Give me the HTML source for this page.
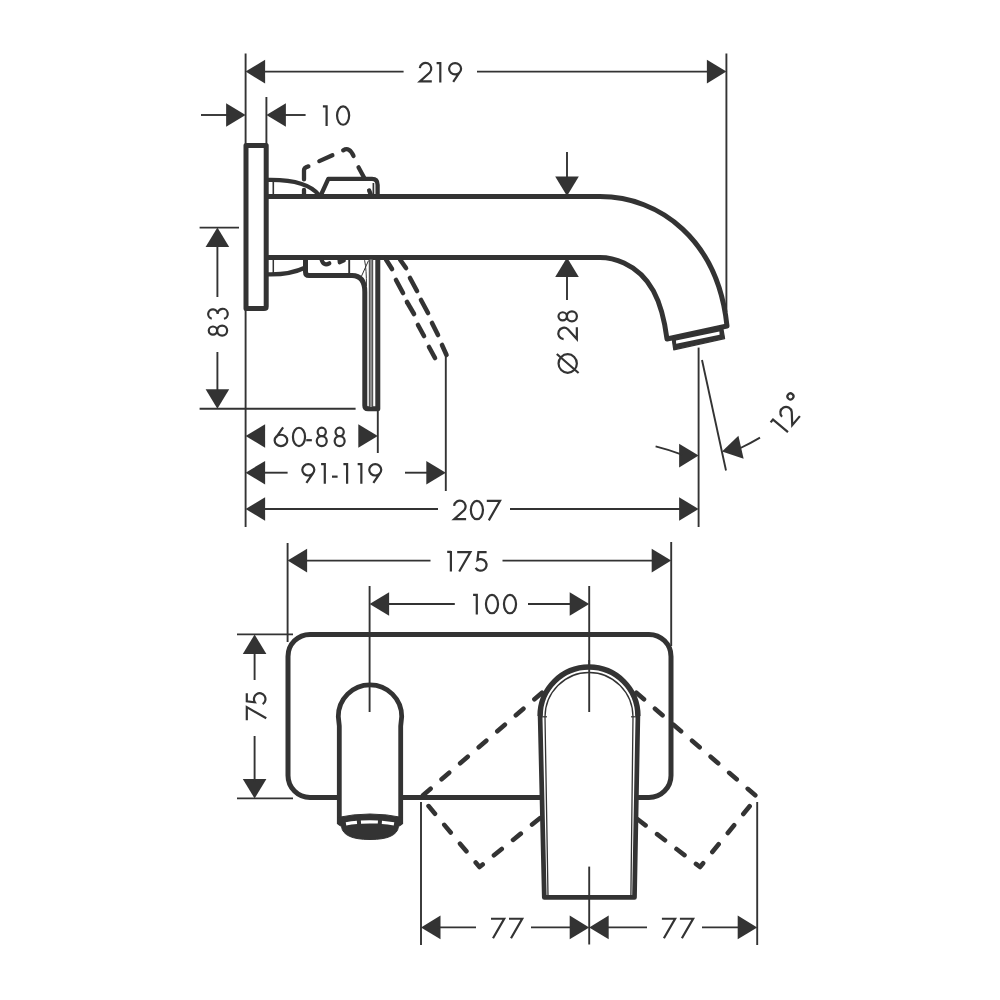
<!DOCTYPE html>
<html><head><meta charset="utf-8"><style>
html,body{margin:0;padding:0;background:#fff;}
svg{display:block;}
text{font-family:"Liberation Sans",sans-serif;fill:#333;}
</style></head><body>
<svg width="1000" height="1000" viewBox="0 0 1000 1000">
<rect width="1000" height="1000" fill="#fff"/>
<line x1="245.60" y1="53.60" x2="245.60" y2="527.00" stroke="#333" stroke-width="1.9" stroke-linecap="butt"/>
<line x1="266.40" y1="97.00" x2="266.40" y2="145.00" stroke="#333" stroke-width="1.9" stroke-linecap="butt"/>
<line x1="726.40" y1="53.60" x2="726.40" y2="312.00" stroke="#333" stroke-width="1.9" stroke-linecap="butt"/>
<line x1="698.60" y1="347.60" x2="698.60" y2="527.00" stroke="#333" stroke-width="1.9" stroke-linecap="butt"/>
<line x1="377.80" y1="409.00" x2="377.80" y2="453.00" stroke="#333" stroke-width="1.9" stroke-linecap="butt"/>
<line x1="445.80" y1="356.00" x2="445.80" y2="491.00" stroke="#333" stroke-width="1.9" stroke-linecap="butt"/>
<line x1="199.60" y1="227.60" x2="239.00" y2="227.60" stroke="#333" stroke-width="1.9" stroke-linecap="butt"/>
<line x1="199.60" y1="408.80" x2="355.60" y2="408.80" stroke="#333" stroke-width="1.9" stroke-linecap="butt"/>
<line x1="702.00" y1="360.00" x2="726.00" y2="470.50" stroke="#333" stroke-width="1.9" stroke-linecap="butt"/>
<polygon points="245.60,71.60 265.10,59.80 265.10,83.40" fill="#333"/>
<polygon points="726.40,71.60 706.90,83.40 706.90,59.80" fill="#333"/>
<line x1="262.00" y1="71.60" x2="403.60" y2="71.60" stroke="#333" stroke-width="1.9" stroke-linecap="butt"/>
<line x1="477.00" y1="71.60" x2="710.00" y2="71.60" stroke="#333" stroke-width="1.9" stroke-linecap="butt"/>
<g transform="translate(418.5,82.6)" fill="none" stroke="#333" stroke-width="2.2"><path transform="translate(0,0)" d="M1.3,-14.4 A5.75,5.75 0 1 1 11.3,-10.1 L1.4,-1.15 L13.3,-1.15"/><path transform="translate(18.1,0)" d="M0,-19.55 L3.7,-19.55 M3.7,-20.6 L3.7,0"/><path transform="translate(29.5,0)" d="M5.2,-0.8 L11.9,-10.6 M7.1,-19.45 A6.0,5.65 0 1 1 7.1,-8.15 A6.0,5.65 0 1 1 7.1,-19.45 Z"/></g>
<polygon points="245.60,115.00 226.10,126.80 226.10,103.20" fill="#333"/>
<line x1="201.00" y1="115.00" x2="230.00" y2="115.00" stroke="#333" stroke-width="1.9" stroke-linecap="butt"/>
<polygon points="266.40,115.00 285.90,103.20 285.90,126.80" fill="#333"/>
<line x1="282.00" y1="115.00" x2="305.60" y2="115.00" stroke="#333" stroke-width="1.9" stroke-linecap="butt"/>
<g transform="translate(322.9,125.9)" fill="none" stroke="#333" stroke-width="2.2"><path transform="translate(0,0)" d="M0,-19.55 L3.7,-19.55 M3.7,-20.6 L3.7,0"/><path transform="translate(13.0,0)" d="M7.2,-19.45 A6.05,9.15 0 1 1 7.2,-1.15 A6.05,9.15 0 1 1 7.2,-19.45 Z"/></g>
<polygon points="217.40,227.60 229.20,247.10 205.60,247.10" fill="#333"/>
<line x1="217.40" y1="244.00" x2="217.40" y2="297.00" stroke="#333" stroke-width="1.9" stroke-linecap="butt"/>
<polygon points="217.40,408.80 205.60,389.30 229.20,389.30" fill="#333"/>
<line x1="217.40" y1="352.00" x2="217.40" y2="392.00" stroke="#333" stroke-width="1.9" stroke-linecap="butt"/>
<g transform="translate(228.25,336.75) rotate(-90)" fill="none" stroke="#333" stroke-width="2.2"><path transform="translate(0,0)" d="M6.15,-19.5 A4.1,4.2 0 1 1 6.15,-11.1 A4.1,4.2 0 1 1 6.15,-19.5 Z M6.15,-11.1 A5.0,5.0 0 1 1 6.15,-1.1 A5.0,5.0 0 1 1 6.15,-11.1 Z"/><path transform="translate(16.75,0)" d="M1.3,-16.5 A4.75,4.75 0 1 1 6.1,-10.6 A5.05,5.05 0 1 1 1.3,-4.3"/></g>
<polygon points="567.00,196.00 555.20,176.50 578.80,176.50" fill="#333"/>
<line x1="567.00" y1="152.00" x2="567.00" y2="180.00" stroke="#333" stroke-width="1.9" stroke-linecap="butt"/>
<polygon points="567.00,257.50 578.80,277.00 555.20,277.00" fill="#333"/>
<line x1="567.00" y1="274.00" x2="567.00" y2="300.00" stroke="#333" stroke-width="1.9" stroke-linecap="butt"/>
<g transform="translate(578,374) rotate(-90)" fill="none" stroke="#333" stroke-width="2.2"><path transform="translate(0,0)" d="M10.5,-19.45 A9.3,9.15 0 1 1 10.5,-1.15 A9.3,9.15 0 1 1 10.5,-19.45 Z M1.0,0.6 L20.0,-21.2"/><path transform="translate(33.5,0)" d="M1.3,-14.4 A5.75,5.75 0 1 1 11.3,-10.1 L1.4,-1.15 L13.3,-1.15"/><path transform="translate(51.5,0)" d="M6.15,-19.5 A4.1,4.2 0 1 1 6.15,-11.1 A4.1,4.2 0 1 1 6.15,-19.5 Z M6.15,-11.1 A5.0,5.0 0 1 1 6.15,-1.1 A5.0,5.0 0 1 1 6.15,-11.1 Z"/></g>
<polygon points="245.60,436.00 265.10,424.20 265.10,447.80" fill="#333"/>
<polygon points="377.80,436.00 358.30,447.80 358.30,424.20" fill="#333"/>
<g transform="translate(273.5,447.2)" fill="none" stroke="#333" stroke-width="2.2"><path transform="translate(0,0)" d="M9.6,-19.9 L2.6,-9.8 M7.45,-12.45 A6.3,5.65 0 1 1 7.45,-1.15 A6.3,5.65 0 1 1 7.45,-12.45 Z"/><path transform="translate(18.3,0)" d="M7.2,-19.45 A6.05,9.15 0 1 1 7.2,-1.15 A6.05,9.15 0 1 1 7.2,-19.45 Z"/><path transform="translate(32.75,0)" d="M0,-7.0 L5.6,-7.0"/><path transform="translate(42.1,0)" d="M6.15,-19.5 A4.1,4.2 0 1 1 6.15,-11.1 A4.1,4.2 0 1 1 6.15,-19.5 Z M6.15,-11.1 A5.0,5.0 0 1 1 6.15,-1.1 A5.0,5.0 0 1 1 6.15,-11.1 Z"/><path transform="translate(60.0,0)" d="M6.15,-19.5 A4.1,4.2 0 1 1 6.15,-11.1 A4.1,4.2 0 1 1 6.15,-19.5 Z M6.15,-11.1 A5.0,5.0 0 1 1 6.15,-1.1 A5.0,5.0 0 1 1 6.15,-11.1 Z"/></g>
<polygon points="245.60,472.70 265.10,460.90 265.10,484.50" fill="#333"/>
<line x1="262.00" y1="472.70" x2="287.60" y2="472.70" stroke="#333" stroke-width="1.9" stroke-linecap="butt"/>
<polygon points="445.80,472.70 426.30,484.50 426.30,460.90" fill="#333"/>
<line x1="405.00" y1="472.70" x2="430.00" y2="472.70" stroke="#333" stroke-width="1.9" stroke-linecap="butt"/>
<g transform="translate(301.2,483.65)" fill="none" stroke="#333" stroke-width="2.2"><path transform="translate(0,0)" d="M5.2,-0.8 L11.9,-10.6 M7.1,-19.45 A6.0,5.65 0 1 1 7.1,-8.15 A6.0,5.65 0 1 1 7.1,-19.45 Z"/><path transform="translate(19.9,0)" d="M0,-19.55 L3.7,-19.55 M3.7,-20.6 L3.7,0"/><path transform="translate(30.8,0)" d="M0,-7.0 L5.6,-7.0"/><path transform="translate(42.2,0)" d="M0,-19.55 L3.7,-19.55 M3.7,-20.6 L3.7,0"/><path transform="translate(56.45,0)" d="M0,-19.55 L3.7,-19.55 M3.7,-20.6 L3.7,0"/><path transform="translate(66.95,0)" d="M5.2,-0.8 L11.9,-10.6 M7.1,-19.45 A6.0,5.65 0 1 1 7.1,-8.15 A6.0,5.65 0 1 1 7.1,-19.45 Z"/></g>
<polygon points="245.60,509.00 265.10,497.20 265.10,520.80" fill="#333"/>
<line x1="262.00" y1="509.00" x2="438.00" y2="509.00" stroke="#333" stroke-width="1.9" stroke-linecap="butt"/>
<polygon points="698.60,509.00 679.10,520.80 679.10,497.20" fill="#333"/>
<line x1="510.00" y1="509.00" x2="682.00" y2="509.00" stroke="#333" stroke-width="1.9" stroke-linecap="butt"/>
<g transform="translate(452.8,520.35)" fill="none" stroke="#333" stroke-width="2.2"><path transform="translate(0,0)" d="M1.3,-14.4 A5.75,5.75 0 1 1 11.3,-10.1 L1.4,-1.15 L13.3,-1.15"/><path transform="translate(16.9,0)" d="M7.2,-19.45 A6.05,9.15 0 1 1 7.2,-1.15 A6.05,9.15 0 1 1 7.2,-19.45 Z"/><path transform="translate(33.8,0)" d="M0.2,-19.45 L13.4,-19.45 L2.2,0"/></g>
<polygon points="698.60,455.60 679.10,467.40 679.10,443.80" fill="#333"/>
<path d="M655.6,446.4 Q668,449.5 682,454.6" stroke="#333" stroke-width="1.9" fill="none" stroke-linejoin="round" />
<polygon points="722.00,451.60 738.41,435.78 743.63,458.79" fill="#333"/>
<path d="M740.5,448 Q750,443.5 760,437.6" stroke="#333" stroke-width="1.9" fill="none" stroke-linejoin="round" />
<g transform="translate(785.6,434.9) rotate(-50)" fill="none" stroke="#333" stroke-width="2.2"><path transform="translate(0,0)" d="M0,-19.55 L3.7,-19.55 M3.7,-20.6 L3.7,0"/><path transform="translate(10.3,0)" d="M1.3,-14.4 A5.75,5.75 0 1 1 11.3,-10.1 L1.4,-1.15 L13.3,-1.15"/><path transform="translate(29.3,0)" d="M3.3,-24.0 A3.0,3.0 0 1 1 3.3,-18.0 A3.0,3.0 0 1 1 3.3,-24.0 Z"/></g>
<path d="M246,145.5 L266.2,145.5 L266.2,306.5 Q266.2,308.6 264,308.6 L246,308.6 Z" stroke="#333" stroke-width="5.0" fill="#fff" stroke-linejoin="round" />
<path d="M266.2,196.6 L600,196.6 C660,196.6 718,240 727,326 L667,339 C662,300 650,275 624,263 C615,259 607,257.6 600,257.6 L266.2,257.6" stroke="#333" stroke-width="5.0" fill="none" stroke-linejoin="round" />
<polygon points="672,337.6 722.6,327.2 724.6,338.6 673.8,349.8" fill="#333" stroke="#333" stroke-width="1.2" stroke-linejoin="round"/>
<polygon points="676,340.6 719.4,331.6 719.6,334.8 676.2,343.8" fill="#fff"/>
<path d="M320.5,196 L328.3,178.8 L372,178.8 Q377.6,178.8 377.6,185 L377.6,196" stroke="#333" stroke-width="4.3" fill="none" stroke-linejoin="round" />
<line x1="273.30" y1="181.00" x2="273.30" y2="196.00" stroke="#333" stroke-width="1.6" stroke-linecap="butt"/>
<line x1="373.40" y1="183.00" x2="373.40" y2="196.00" stroke="#333" stroke-width="1.7" stroke-linecap="butt"/>
<path d="M268,179.8 C292,179.4 311,184.5 319.5,195.5" stroke="#333" stroke-width="4.2" fill="none" stroke-linejoin="round" />
<line x1="304.00" y1="190.00" x2="304.00" y2="195.50" stroke="#333" stroke-width="4.3" stroke-linecap="round"/>
<path d="M304,179.4 L304,170.2 Q304,167.6 308.4,166.4" stroke="#333" stroke-width="4.3" fill="none" stroke-linejoin="round" stroke-linecap="round"/>
<line x1="319.30" y1="161.10" x2="332.40" y2="155.30" stroke="#333" stroke-width="4.3" stroke-linecap="round"/>
<path d="M343.2,150.3 Q349.5,146.5 353.5,155.9" stroke="#333" stroke-width="4.3" fill="none" stroke-linejoin="round" stroke-linecap="round"/>
<line x1="358.50" y1="167.30" x2="364.30" y2="178.10" stroke="#333" stroke-width="4.3" stroke-linecap="round"/>
<line x1="369.10" y1="190.40" x2="370.80" y2="194.60" stroke="#333" stroke-width="4.3" stroke-linecap="round"/>
<line x1="273.30" y1="258.00" x2="273.30" y2="274.00" stroke="#333" stroke-width="1.5" stroke-linecap="butt"/>
<path d="M268,274.4 C285,274.8 297,271.5 305.5,267.5" stroke="#333" stroke-width="4.2" fill="none" stroke-linejoin="round" />
<path d="M305.5,257.6 L305.5,272 Q305.5,275.5 309,275.5 L352,275.5 Q364.8,275.5 364.8,292 L364.8,405.5 Q364.8,408.8 368,408.8 L377.8,408.8 L377.8,257.6" stroke="#333" stroke-width="5.0" fill="none" stroke-linejoin="round" />
<line x1="349.20" y1="258.00" x2="349.20" y2="275.50" stroke="#333" stroke-width="1.9" stroke-linecap="butt"/>
<line x1="371.00" y1="259.50" x2="371.00" y2="407.00" stroke="#8a8a8a" stroke-width="3.4" stroke-linecap="butt"/>
<line x1="369.30" y1="259.50" x2="369.30" y2="407.00" stroke="#333" stroke-width="0.9" stroke-linecap="butt"/>
<line x1="372.70" y1="259.50" x2="372.70" y2="407.00" stroke="#333" stroke-width="0.9" stroke-linecap="butt"/>
<line x1="368.50" y1="260.60" x2="361.30" y2="276.60" stroke="#333" stroke-width="1.0" stroke-linecap="butt"/>
<path d="M364.6,260.2 Q366.6,270 366.4,286" stroke="#333" stroke-width="1.0" fill="none" stroke-linejoin="round" />
<path d="M321.5,259.5 Q323.5,266.5 329.3,263.3" stroke="#333" stroke-width="4.2" fill="none" stroke-linejoin="round" stroke-linecap="round"/>
<path d="M339.3,259.5 L339.6,262.5 L344,260.6" stroke="#333" stroke-width="3.8" fill="none" stroke-linejoin="round" stroke-linecap="round"/>
<line x1="386.00" y1="259.50" x2="392.00" y2="269.00" stroke="#333" stroke-width="4.6" stroke-linecap="round"/>
<line x1="396.00" y1="280.00" x2="403.00" y2="293.00" stroke="#333" stroke-width="4.6" stroke-linecap="round"/>
<line x1="407.00" y1="302.00" x2="414.00" y2="314.00" stroke="#333" stroke-width="4.6" stroke-linecap="round"/>
<line x1="418.00" y1="325.00" x2="424.00" y2="336.00" stroke="#333" stroke-width="4.6" stroke-linecap="round"/>
<line x1="429.00" y1="347.00" x2="435.00" y2="358.00" stroke="#333" stroke-width="4.6" stroke-linecap="round"/>
<line x1="400.00" y1="259.50" x2="406.00" y2="268.00" stroke="#333" stroke-width="4.6" stroke-linecap="round"/>
<line x1="410.00" y1="278.00" x2="417.00" y2="291.00" stroke="#333" stroke-width="4.6" stroke-linecap="round"/>
<line x1="421.00" y1="300.00" x2="428.00" y2="313.00" stroke="#333" stroke-width="4.6" stroke-linecap="round"/>
<line x1="432.00" y1="323.00" x2="438.00" y2="335.00" stroke="#333" stroke-width="4.6" stroke-linecap="round"/>
<line x1="442.00" y1="345.00" x2="446.50" y2="355.00" stroke="#333" stroke-width="4.6" stroke-linecap="round"/>
<line x1="287.60" y1="543.00" x2="287.60" y2="642.00" stroke="#333" stroke-width="1.9" stroke-linecap="butt"/>
<line x1="671.20" y1="542.00" x2="671.20" y2="646.00" stroke="#333" stroke-width="1.9" stroke-linecap="butt"/>
<polygon points="287.60,560.60 307.10,548.80 307.10,572.40" fill="#333"/>
<line x1="304.00" y1="560.60" x2="430.50" y2="560.60" stroke="#333" stroke-width="1.9" stroke-linecap="butt"/>
<polygon points="671.20,560.60 651.70,572.40 651.70,548.80" fill="#333"/>
<line x1="502.50" y1="560.60" x2="655.00" y2="560.60" stroke="#333" stroke-width="1.9" stroke-linecap="butt"/>
<g transform="translate(447.2,571.5)" fill="none" stroke="#333" stroke-width="2.2"><path transform="translate(0,0)" d="M0,-19.55 L3.7,-19.55 M3.7,-20.6 L3.7,0"/><path transform="translate(9.8,0)" d="M0.2,-19.45 L13.4,-19.45 L2.2,0"/><path transform="translate(26.8,0)" d="M12.6,-19.45 L4.4,-19.45 L3.5,-11.4 A5.9,5.75 0 1 1 1.6,-3.6"/></g>
<line x1="369.60" y1="586.00" x2="369.60" y2="712.00" stroke="#333" stroke-width="1.9" stroke-linecap="butt"/>
<line x1="589.20" y1="586.00" x2="589.20" y2="712.00" stroke="#333" stroke-width="1.9" stroke-linecap="butt"/>
<polygon points="369.60,604.00 389.10,592.20 389.10,615.80" fill="#333"/>
<line x1="386.00" y1="604.00" x2="454.80" y2="604.00" stroke="#333" stroke-width="1.9" stroke-linecap="butt"/>
<polygon points="589.20,604.00 569.70,615.80 569.70,592.20" fill="#333"/>
<line x1="528.00" y1="604.00" x2="573.00" y2="604.00" stroke="#333" stroke-width="1.9" stroke-linecap="butt"/>
<g transform="translate(473.1,614.4)" fill="none" stroke="#333" stroke-width="2.2"><path transform="translate(0,0)" d="M0,-19.55 L3.7,-19.55 M3.7,-20.6 L3.7,0"/><path transform="translate(11.7,0)" d="M7.2,-19.45 A6.05,9.15 0 1 1 7.2,-1.15 A6.05,9.15 0 1 1 7.2,-19.45 Z"/><path transform="translate(29.7,0)" d="M7.2,-19.45 A6.05,9.15 0 1 1 7.2,-1.15 A6.05,9.15 0 1 1 7.2,-19.45 Z"/></g>
<line x1="237.00" y1="634.40" x2="293.00" y2="634.40" stroke="#333" stroke-width="1.9" stroke-linecap="butt"/>
<line x1="237.00" y1="798.40" x2="293.00" y2="798.40" stroke="#333" stroke-width="1.9" stroke-linecap="butt"/>
<polygon points="254.60,634.40 266.40,653.90 242.80,653.90" fill="#333"/>
<line x1="254.60" y1="650.00" x2="254.60" y2="680.00" stroke="#333" stroke-width="1.9" stroke-linecap="butt"/>
<polygon points="254.60,798.40 242.80,778.90 266.40,778.90" fill="#333"/>
<line x1="254.60" y1="736.00" x2="254.60" y2="782.00" stroke="#333" stroke-width="1.9" stroke-linecap="butt"/>
<g transform="translate(266.25,720.5) rotate(-90)" fill="none" stroke="#333" stroke-width="2.2"><path transform="translate(0,0)" d="M0.2,-19.45 L13.4,-19.45 L2.2,0"/><path transform="translate(14.75,0)" d="M12.6,-19.45 L4.4,-19.45 L3.5,-11.4 A5.9,5.75 0 1 1 1.6,-3.6"/></g>
<path d="M310,634.4 L649,634.4 A22,22 0 0 1 671,656.4 L671,775.5 A22,22 0 0 1 649,797.5 L310,797.5 A22,22 0 0 1 288,775.5 L288,656.4 A22,22 0 0 1 310,634.4 Z" stroke="#333" stroke-width="5.0" fill="none" stroke-linejoin="round" />
<path d="M339.3,824 L339.3,726 L338.3,716.5 A31.7,31.7 0 0 1 401.7,716.5 L400.7,726 L400.7,824" stroke="#333" stroke-width="4.8" fill="#fff" stroke-linejoin="round" />
<line x1="369.60" y1="686.00" x2="369.60" y2="712.00" stroke="#333" stroke-width="1.9" stroke-linecap="butt"/>
<path d="M337.5,817.5 Q370,810.5 402.5,817.5 L402.5,824 L398.5,826.5 Q397,839.5 370,839.5 Q343,839.5 341.5,826.5 L337.5,824 Z" stroke="#333" stroke-width="1" fill="#333" stroke-linejoin="round" />
<path d="M346,823.8 Q370,819.8 394,823.8" stroke="#fff" stroke-width="3.2" fill="none" stroke-dasharray="11 4 17 4 20"/>
<path d="M540.1,716 A48.9,48.9 0 0 1 637.9,716 L634.5,897.4 L544.3,897.4 Z" stroke="#fff" stroke-width="0.1" fill="#fff" stroke-linejoin="round" />
<path d="M540.1,716 A48.9,48.9 0 0 1 637.9,716" stroke="#333" stroke-width="5.5" fill="none" stroke-linejoin="round" />
<path d="M540.1,716 L544.3,897.4 L634.5,897.4 L637.9,716" stroke="#333" stroke-width="4.7" fill="none" stroke-linejoin="round" />
<path d="M545,717 A44,44.5 0 0 1 633,717 L630.9,895.5 M545,717 L548,895.5" stroke="#333" stroke-width="1.3" fill="none" stroke-linejoin="round" />
<line x1="541.00" y1="716.80" x2="547.00" y2="716.80" stroke="#333" stroke-width="1.2" stroke-linecap="butt"/>
<line x1="631.00" y1="716.80" x2="637.00" y2="716.80" stroke="#333" stroke-width="1.2" stroke-linecap="butt"/>
<line x1="589.20" y1="660.00" x2="589.20" y2="712.00" stroke="#333" stroke-width="1.9" stroke-linecap="butt"/>
<path d="M542,692.8 L421,797 L479.5,867 L542,816.5" stroke="#333" stroke-width="4.6" fill="none" stroke-linejoin="round" stroke-dasharray="10 14.5" stroke-linecap="round" stroke-linejoin="round"/>
<path d="M636.4,692.8 L757.2,797 L700,867 L636,818" stroke="#333" stroke-width="4.6" fill="none" stroke-linejoin="round" stroke-dasharray="10 14.5" stroke-linecap="round" stroke-linejoin="round"/>
<line x1="589.20" y1="866.60" x2="589.20" y2="944.50" stroke="#333" stroke-width="1.9" stroke-linecap="butt"/>
<line x1="421.00" y1="802.00" x2="421.00" y2="945.00" stroke="#333" stroke-width="1.9" stroke-linecap="butt"/>
<line x1="757.20" y1="802.00" x2="757.20" y2="945.00" stroke="#333" stroke-width="1.9" stroke-linecap="butt"/>
<polygon points="421.00,927.40 440.50,915.60 440.50,939.20" fill="#333"/>
<line x1="437.00" y1="927.40" x2="476.00" y2="927.40" stroke="#333" stroke-width="1.9" stroke-linecap="butt"/>
<polygon points="589.20,927.40 569.70,939.20 569.70,915.60" fill="#333"/>
<line x1="531.00" y1="927.40" x2="573.00" y2="927.40" stroke="#333" stroke-width="1.9" stroke-linecap="butt"/>
<g transform="translate(490.8,938.2)" fill="none" stroke="#333" stroke-width="2.2"><path transform="translate(0,0)" d="M0.2,-19.45 L13.4,-19.45 L2.2,0"/><path transform="translate(18.0,0)" d="M0.2,-19.45 L13.4,-19.45 L2.2,0"/></g>
<polygon points="589.20,927.40 608.70,915.60 608.70,939.20" fill="#333"/>
<line x1="605.00" y1="927.40" x2="647.00" y2="927.40" stroke="#333" stroke-width="1.9" stroke-linecap="butt"/>
<polygon points="757.20,927.40 737.70,939.20 737.70,915.60" fill="#333"/>
<line x1="702.00" y1="927.40" x2="741.00" y2="927.40" stroke="#333" stroke-width="1.9" stroke-linecap="butt"/>
<g transform="translate(661.7,938.2)" fill="none" stroke="#333" stroke-width="2.2"><path transform="translate(0,0)" d="M0.2,-19.45 L13.4,-19.45 L2.2,0"/><path transform="translate(18.0,0)" d="M0.2,-19.45 L13.4,-19.45 L2.2,0"/></g>
</svg></body></html>
